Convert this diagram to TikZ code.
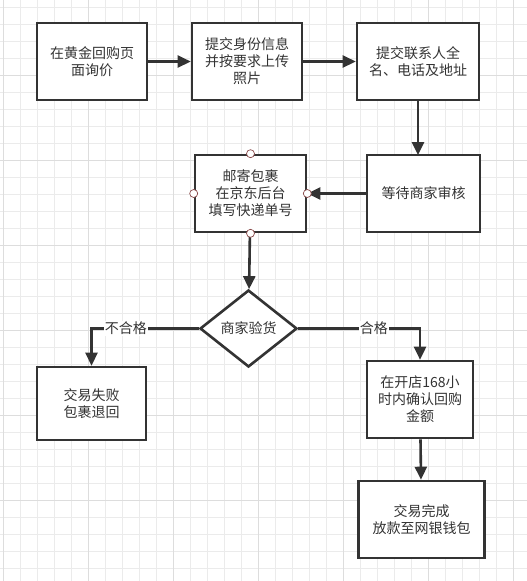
\documentclass[tikz,border=0pt]{standalone}
\usepackage{fontspec}
\newfontfamily\cjk{Noto Sans CJK SC}
\usetikzlibrary{shapes.geometric,arrows.meta}
\definecolor{ink}{HTML}{333333}
\definecolor{gridminor}{HTML}{EBEBEB}
\definecolor{gridmajor}{HTML}{DDDDDD}
\definecolor{pin}{HTML}{8A4A4A}
\begin{document}
\begin{tikzpicture}[x=1pt,y=-1pt,->,>={Triangle[length=13pt,width=12pt]},line width=2.6pt,ink,
  stepbox/.style={rectangle,draw=ink,fill=white,minimum height=77pt,align=center,inner sep=2pt,font=\cjk\fontsize{14pt}{17pt}\selectfont,text=ink},
  check node/.style={diamond,draw=ink,fill=white,minimum width=97pt,minimum height=77pt,inner sep=0pt,aspect=1.26,font=\cjk\fontsize{14pt}{17pt}\selectfont,text=ink},
  edge label/.style={fill=white,inner sep=1pt,font=\cjk\fontsize{14pt}{17pt}\selectfont,text=ink},
  pin dot/.style={circle,draw=pin,fill=white,line width=0.7pt,minimum size=8pt,inner sep=0pt}]

  % background grid
  \useasboundingbox (0,0) rectangle (527,581);
  \fill[white,-] (0,0) rectangle (527,581);
  \foreach \gx in {0,...,30} {
    \draw[-,gridminor,line width=0.6pt] (3.3+17*\gx,0) -- (3.3+17*\gx,581);
  }
  \foreach \gy in {0,...,34} {
    \draw[-,gridminor,line width=0.6pt] (0,7.3+17*\gy) -- (527,7.3+17*\gy);
  }
  \foreach \gx in {0,5,...,30} {
    \draw[-,gridmajor,line width=0.8pt] (3.3+17*\gx,0) -- (3.3+17*\gx,581);
  }
  \foreach \gy in {4,9,...,34} {
    \draw[-,gridmajor,line width=0.8pt] (0,7.3+17*\gy) -- (527,7.3+17*\gy);
  }

  % steps
  \node[stepbox, minimum width=110pt] (ask) at (92,61.5) {在黄金回购页\\面询价};
  \node[stepbox, minimum width=110pt] (info) at (247,61.5) {提交身份信息\\并按要求上传\\照片};
  \node[stepbox, minimum width=122pt] (addr) at (418,61.5) {提交联系人全\\名、电话及地址};
  \node[stepbox, minimum width=113pt] (wait) at (423.5,193.5) {等待商家审核};
  \node[stepbox, minimum width=111pt] (mail) at (250.5,193.5) {邮寄包裹\\在京东后台\\填写快递单号};
  \node[check node] (check) at (248.5,328.5) {商家验货};
  \node[stepbox, minimum width=109pt, minimum height=73pt] (fail) at (91.5,403.5) {交易失败\\包裹退回};
  \node[stepbox, minimum width=106pt] (confirm) at (420,399.5) {在开店168小\\时内确认回购\\金额};
  \node[stepbox, minimum width=126pt] (done) at (421.5,519.5) {交易完成\\放款至网银钱包};

  % flow
  \draw (ask) -- (info);
  \draw (info) -- (addr);
  \draw (addr.south -| 418,0) -- (418,155);
  \draw (wait) -- (mail);
  \draw (mail) -- (check);
  \draw (check.west) -| node[edge label, pos=0.34] {不合格} (fail.north);
  \draw (check.east) -| node[edge label, pos=0.31] {合格} (confirm.north);
  \draw (confirm) -- (done);

  % connection points
  \foreach \side in {north,south,east,west} {
    \node[pin dot] (mail-\side) at (mail.\side) {};
  }
\end{tikzpicture}
\end{document}
